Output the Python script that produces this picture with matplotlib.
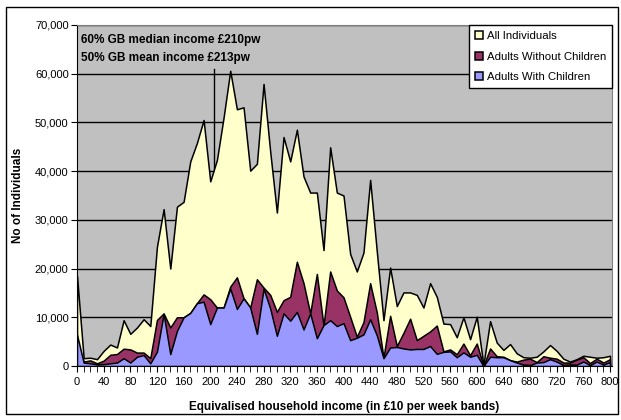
import numpy as np
import matplotlib
matplotlib.use("Agg")
import matplotlib.pyplot as plt
from matplotlib.patches import Rectangle
from matplotlib.ticker import FuncFormatter, MultipleLocator

plt.rcParams['font.family'] = ['Liberation Sans', 'DejaVu Sans']

# income bands (in £10 per week)
bands = np.arange(0, 810, 10)

all_individuals = [
    18500, 1600, 1700, 1400, 3100, 4400, 3800, 9400, 6600, 7900,
    9600, 8200, 24500, 32200, 20000, 32700, 33700, 42000, 45800, 50500,
    37900, 42300, 51000, 60600, 52700, 53100, 40100, 41500, 57900, 44000,
    31500, 47000, 42000, 48500, 38900, 35600, 35600, 23800, 44900, 35600,
    35000, 23000, 19400, 23300, 38200, 23500, 9400, 20200, 12300, 15100,
    15100, 14600, 12000, 17000, 14200, 8700, 8600, 5900, 10000, 5500,
    10100, 200, 9200, 4800, 3300, 4500, 2600, 1800, 1700, 1900,
    3000, 4300, 3100, 1500, 900, 1400, 2100, 1900, 1700, 1800, 2100]

without_children = [
    5000, 900, 1150, 550, 1100, 2300, 2450, 3550, 3400, 2750,
    2750, 1600, 9450, 10800, 7900, 10000, 10000, 10900, 12900, 14700,
    13700, 12000, 12000, 16300, 18200, 13900, 12000, 17800, 16100, 14600,
    11100, 13500, 14200, 21400, 17000, 10800, 18900, 8300, 19400, 15500,
    14100, 10100, 6000, 9000, 17000, 11000, 1700, 10300, 4100, 6800,
    9700, 5300, 6200, 7100, 8300, 3000, 3400, 2400, 4600, 2200,
    4600, 0, 3600, 2000, 1900, 1200, 900, 1300, 1500, 800,
    2000, 1700, 1500, 700, 700, 1300, 1800, 600, 1500, 700, 1400]

with_children = [
    6400, 700, 550, 350, 400, 550, 700, 1600, 700, 1900,
    2250, 550, 2950, 10700, 2450, 7200, 10000, 10900, 12900, 13200,
    8600, 12000, 12000, 15900, 11700, 13900, 12000, 6600, 15900, 11800,
    6200, 10800, 9300, 11100, 7500, 10800, 5700, 8400, 9400, 8200,
    8800, 5300, 5800, 6500, 9600, 6300, 1600, 3800, 3900, 3600,
    3400, 3500, 3500, 4100, 2500, 2900, 3000, 1800, 2800, 1900,
    2300, 0, 1900, 1800, 1800, 1200, 700, 300, 200, 700,
    800, 1400, 900, 200, 300, 300, 900, 200, 900, 300, 800]

median_line = 205

fig = plt.figure(figsize=(6.21, 4.2), dpi=100)
ax = fig.add_axes([0.124, 0.1286, 0.8615, 0.8119])
ax.set_facecolor("#C0C0C0")

ax.fill_between(bands, all_individuals, color="#FFFFCC", edgecolor="black",
                linewidth=1.1, label="All Individuals", zorder=2)
ax.fill_between(bands, without_children, color="#993366", edgecolor="black",
                linewidth=1.1, label="Adults Without Children", zorder=3)
ax.fill_between(bands, with_children, color="#9999FF", edgecolor="black",
                linewidth=1.1, label="Adults With Children", zorder=4)

# vertical marker for the low income threshold (sits behind the areas)
ax.plot([median_line, median_line], [0, 61000], color="black", lw=1, zorder=1)

ax.set_xlim(0, 803)
ax.set_ylim(0, 70000)
ax.yaxis.set_major_locator(MultipleLocator(10000))
ax.yaxis.set_major_formatter(FuncFormatter(lambda v, p: f"{int(v):,}"))
ax.xaxis.set_major_locator(MultipleLocator(40))
ax.xaxis.set_minor_locator(MultipleLocator(10))
ax.grid(axis="y", color="black", lw=1, zorder=0.5)
ax.set_axisbelow(True)

ax.tick_params(axis="both", which="both", direction="out", labelsize=8,
               colors="black")
ax.tick_params(axis="x", which="major", length=4, pad=4)
ax.tick_params(axis="x", which="minor", length=4)
ax.tick_params(axis="y", length=4, pad=2)

for s in ["top", "right"]:
    ax.spines[s].set_color("#808080")
for s in ["left", "bottom"]:
    ax.spines[s].set_color("black")

ax.set_xlabel("Equivalised household income (in £10 per week bands)",
              fontsize=8.5, fontweight="bold", labelpad=10)
ax.set_ylabel("No of Individuals", fontsize=8.5, fontweight="bold", labelpad=8)

ax.text(0.008, 0.975, "60% GB median income £210pw", transform=ax.transAxes,
        fontsize=8.5, fontweight="bold", va="top", ha="left")
ax.text(0.008, 0.922, "50% GB mean income £213pw", transform=ax.transAxes,
        fontsize=8.5, fontweight="bold", va="top", ha="left")

leg = ax.legend(loc="upper right", fontsize=8.2, frameon=True, fancybox=False,
                edgecolor="black", framealpha=1, borderaxespad=0,
                handlelength=0.7, handleheight=0.7, handletextpad=0.35,
                labelspacing=0.95, borderpad=0.5)
leg.get_frame().set_linewidth(1)
leg.set_zorder(10)

# border around the whole chart
fig.patches.append(Rectangle((0.01, 0.015), 0.985, 0.968, transform=fig.transFigure,
                             fill=False, edgecolor="black", lw=1))

fig.savefig("out.png", dpi=100)
